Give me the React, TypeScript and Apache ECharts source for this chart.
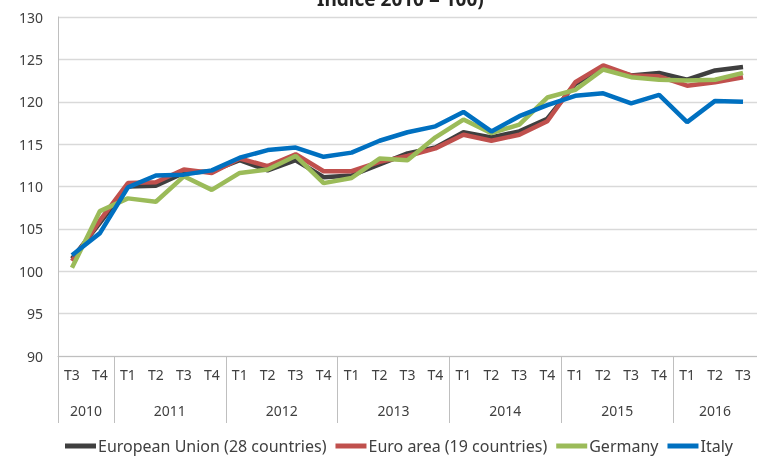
import React, { useEffect, useRef } from "react";
import * as echarts from "echarts";

const quarterLabels = [
  "T3", "T4",
  "T1", "T2", "T3", "T4",
  "T1", "T2", "T3", "T4",
  "T1", "T2", "T3", "T4",
  "T1", "T2", "T3", "T4",
  "T1", "T2", "T3", "T4",
  "T1", "T2", "T3",
];
const years = ["2010", "2011", "2012", "2013", "2014", "2015", "2016"];
const quartersPerYear = [2, 4, 4, 4, 4, 4, 3];

const euValues = [101.5, 105.7, 110.0, 110.1, 111.6, 111.8, 113.1, 111.9, 113.1, 111.1, 111.3, 112.6, 113.9, 114.6, 116.4, 115.8, 116.5, 118.0, 122.1, 124.0, 123.1, 123.4, 122.6, 123.7, 124.1];
const euroAreaValues = [101.2, 106.0, 110.4, 110.5, 112.0, 111.6, 113.3, 112.4, 113.8, 111.8, 111.8, 112.9, 113.6, 114.5, 116.1, 115.4, 116.1, 117.7, 122.3, 124.3, 123.1, 123.0, 121.9, 122.3, 122.9];
const germanyValues = [100.4, 107.1, 108.6, 108.2, 111.2, 109.6, 111.6, 112.0, 113.6, 110.4, 111.0, 113.3, 113.1, 115.8, 117.9, 116.3, 117.3, 120.5, 121.4, 123.8, 122.9, 122.6, 122.5, 122.6, 123.4];
const italyValues = [101.9, 104.5, 109.9, 111.3, 111.4, 111.9, 113.4, 114.3, 114.6, 113.5, 114.0, 115.4, 116.4, 117.1, 118.8, 116.5, 118.3, 119.6, 120.7, 121.0, 119.8, 120.8, 117.6, 120.1, 120.0];

const seriesNames = ["European Union (28 countries)", "Euro area (19 countries)", "Germany", "Italy"];
const seriesColors = ["#3f3f3f", "#c0504d", "#9bbb59", "#0070c0"];

export default function App() {
  const ref = useRef<HTMLDivElement>(null);

  useEffect(() => {
    if (!ref.current) return;
    const chart = echarts.init(ref.current, undefined, { renderer: "svg" });

    const boundaries: number[] = [];
    const centers: number[] = [];
    let acc = 0;
    quartersPerYear.forEach((n) => {
      boundaries.push(acc);
      centers.push(acc + n / 2);
      acc += n;
    });
    const font = "'Noto Sans', sans-serif";
    const textColor = "#404040";
    const datasets = [euValues, euroAreaValues, germanyValues, italyValues];

    chart.setOption({
      animation: false,
      title: {
        text: "Indice 2010 = 100)",
        left: 312,
        top: -16,
        textStyle: { fontFamily: font, fontSize: 19, fontWeight: "bold", color: "#222" },
      },
      grid: { left: 58, top: 17, width: 710, height: 339 },
      legend: {
        left: 60,
        top: 432,
        icon: "rect",
        itemWidth: 31,
        itemHeight: 5,
        itemGap: 9,
        textStyle: { fontFamily: font, fontSize: 16, lineHeight: 18, color: textColor, padding: [0, 0, 0, -3] },
        data: seriesNames,
      },
      xAxis: [
        {
          type: "category",
          data: quarterLabels,
          boundaryGap: true,
          axisLine: { show: true, lineStyle: { color: "#bfbfbf" } },
          axisTick: { show: false },
          axisLabel: { margin: 11, fontFamily: font, fontSize: 14, color: textColor, interval: 0 },
        },
        {
          type: "value",
          position: "bottom",
          min: 0,
          max: quarterLabels.length,
          axisLine: { show: false },
          splitLine: { show: false },
          axisTick: {
            show: true,
            customValues: boundaries,
            length: 67,
            lineStyle: { color: "#bfbfbf" },
          },
          axisLabel: {
            customValues: centers,
            margin: 47,
            fontFamily: font,
            fontSize: 14,
            color: textColor,
            formatter: (v: number) => {
              const i = centers.findIndex((c) => Math.abs(c - v) < 1e-6);
              return i >= 0 ? years[i] : "";
            },
          },
        },
      ],
      yAxis: {
        type: "value",
        min: 90,
        max: 130,
        interval: 5,
        axisLine: { show: true, lineStyle: { color: "#bfbfbf" } },
        axisTick: { show: false },
        splitLine: { lineStyle: { color: "#d9d9d9", width: 1.3 } },
        axisLabel: { margin: 15, fontFamily: font, fontSize: 14, color: textColor },
      },
      series: datasets.map((d, i) => ({
        name: seriesNames[i],
        type: "line",
        xAxisIndex: 0,
        data: d,
        symbol: "none",
        color: seriesColors[i],
        lineStyle: { width: 4.5, color: seriesColors[i] },
      })),
    });

    return () => chart.dispose();
  }, []);

  return (
    <div
      ref={ref}
      style={{ position: "fixed", left: 0, top: 0, width: 757, height: 456 }}
    />
  );
}
